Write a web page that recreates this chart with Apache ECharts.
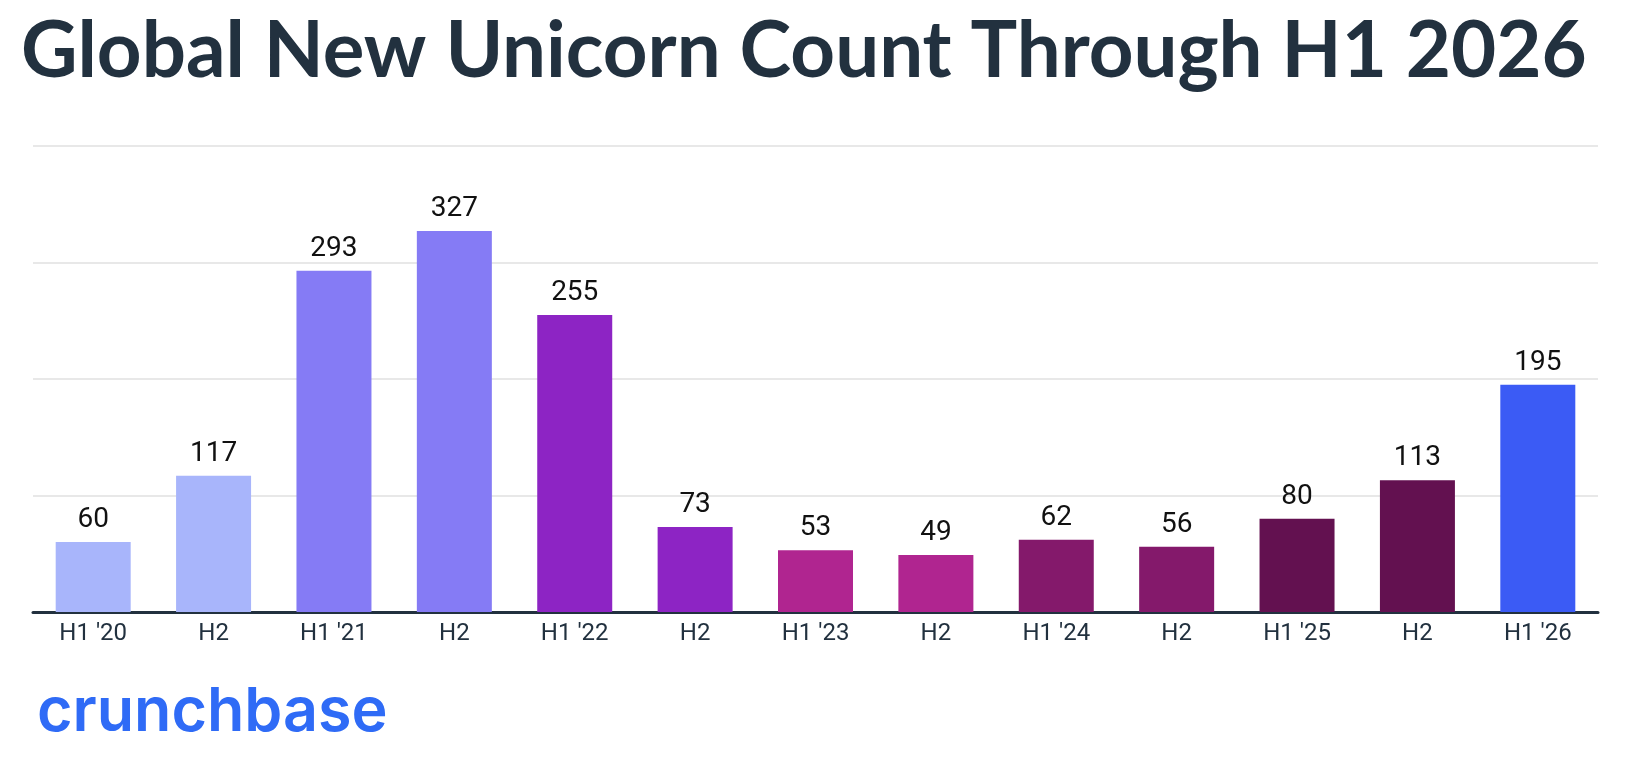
<!DOCTYPE html>
<html>
<head>
<meta charset="utf-8">
<title>Global New Unicorn Count Through H1 2026</title>
<script src="https://cdn.jsdelivr.net/npm/echarts@6/dist/echarts.min.js"></script>
<style>
	html, body { margin: 0; padding: 0; background: #ffffff; }
	#chart { width: 1630px; height: 764px; }
</style>
</head>
<body>
<div id="chart"></div>
<script>
// half-year periods
var periods = ["H1 '20", 'H2', "H1 '21", 'H2', "H1 '22", 'H2', "H1 '23", 'H2', "H1 '24", 'H2', "H1 '25", 'H2', "H1 '26"];
// new unicorns per period
var unicornCounts = [60, 117, 293, 327, 255, 73, 53, 49, 62, 56, 80, 113, 195];
// one colour per year pair, last bar highlighted
var barColors = ['#a8b5fb', '#a8b5fb', '#857bf5', '#857bf5', '#8d24c4', '#8d24c4', '#b02590', '#b02590', '#84196b', '#84196b', '#631150', '#631150', '#3b5bf5'];
var yTicks = [0, 100, 200, 300, 400];

var navy = '#22313f';

var myChart = echarts.init(document.getElementById('chart'));

var barData = unicornCounts.map(function (v, i) {
	return {
		value: v,
		itemStyle: { color: barColors[i] }
	};
});

myChart.setOption({
	backgroundColor: '#ffffff',
	animation: false,
	title: {
		text: 'Global New Unicorn Count Through H1 2026',
		left: 16,
		top: 8,
		textStyle: {
			fontFamily: 'Lato',
			fontWeight: 700,
			fontSize: 78,
			color: navy
		}
	},
	graphic: [{
		type: 'text',
		left: 37,
		top: 682,
		style: {
			text: 'crunchbase',
			fontFamily: 'Inter',
			fontWeight: 600,
			fontSize: 61,
			fill: '#2f6bf6'
		}
	}],
	grid: {
		left: 33,
		right: 32,
		top: 146,
		bottom: 152,
		containLabel: false
	},
	xAxis: {
		type: 'category',
		data: periods,
		axisTick: { show: false },
		axisLine: {
			lineStyle: { color: navy, width: 3 }
		},
		axisLabel: {
			fontFamily: 'Roboto',
			fontSize: 24,
			color: navy,
			margin: 10
		}
	},
	yAxis: {
		type: 'value',
		min: yTicks[0],
		max: yTicks[yTicks.length - 1],
		interval: 100,
		axisLabel: { show: false },
		axisLine: { show: false },
		axisTick: { show: false },
		splitLine: {
			lineStyle: { color: '#e8e8e8', width: 2 }
		}
	},
	series: [{
		type: 'bar',
		data: barData,
		barWidth: 75,
		label: {
			show: true,
			position: 'top',
			distance: 8,
			fontFamily: 'Roboto',
			fontSize: 28,
			color: '#111111'
		}
	}]
});
</script>
</body>
</html>
